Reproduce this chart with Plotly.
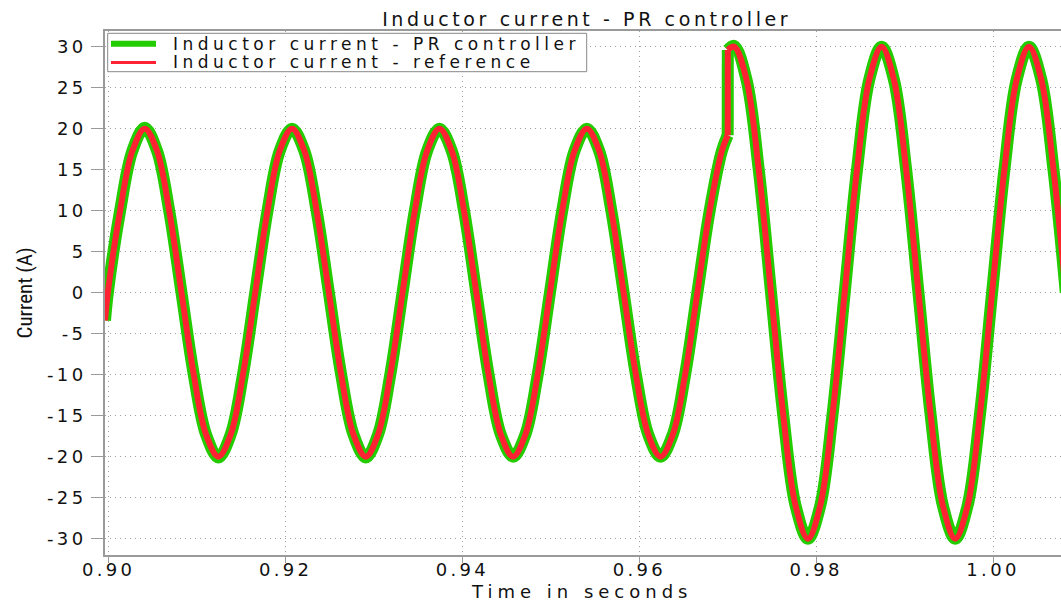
import plotly.graph_objects as go

# ---- data (time in s, current in A) ----
# before the amplitude step (20 A peak)
TIME_A = [0.89958, 0.89990, 0.90129, 0.90268, 0.90407, 0.90546, 0.90684, 0.90823, 0.90962,
          0.91101, 0.91240, 0.91379, 0.91518, 0.91657, 0.91796, 0.91934, 0.92073,
          0.92212, 0.92351, 0.92490, 0.92629, 0.92768, 0.92907, 0.93046, 0.93184,
          0.93323, 0.93462, 0.93601, 0.93740, 0.93879, 0.94018, 0.94157, 0.94296,
          0.94434, 0.94573, 0.94712, 0.94851, 0.94990, 0.95129, 0.95268, 0.95407,
          0.95546, 0.95684, 0.95823, 0.95962, 0.96101, 0.96240, 0.96379, 0.96518,
          0.96657, 0.96796, 0.96934, 0.97000]
PR_A = [-3.4, 0.0, 10.0, 17.3, 20.1, 17.3, 10.0, 0.0, -10.0,
        -17.3, -20.1, -17.3, -10.0, 0.0, 10.0, 17.3, 20.0,
        17.3, 10.0, 0.0, -10.0, -17.3, -20.1, -17.3, -10.0,
        0.0, 10.0, 17.3, 20.0, 17.3, 10.0, 0.0, -10.0,
        -17.3, -20.0, -17.3, -10.0, 0.0, 10.0, 17.3, 20.0,
        17.3, 10.0, 0.0, -10.0, -17.3, -20.0, -17.3, -10.0,
        0.0, 10.0, 17.3, 19.2]
REF_A = [-3.4, 0.0, 10.0, 17.3, 20.0, 17.3, 10.0, 0.0, -10.0,
         -17.3, -20.0, -17.3, -10.0, 0.0, 10.0, 17.3, 20.0,
         17.3, 10.0, 0.0, -10.0, -17.3, -20.0, -17.3, -10.0,
         0.0, 10.0, 17.3, 20.0, 17.3, 10.0, 0.0, -10.0,
         -17.3, -20.0, -17.3, -10.0, 0.0, 10.0, 17.3, 20.0,
         17.3, 10.0, 0.0, -10.0, -17.3, -20.0, -17.3, -10.0,
         0.0, 10.0, 17.3, 19.2]
# after the amplitude step (30 A peak)
TIME_B = [0.97001, 0.97073, 0.97212, 0.97351, 0.97490, 0.97629, 0.97768, 0.97907,
          0.98046, 0.98184, 0.98323, 0.98462, 0.98601, 0.98740, 0.98879, 0.99018,
          0.99157, 0.99296, 0.99434, 0.99573, 0.99712, 0.99851, 0.99990, 1.00129,
          1.00268, 1.00407, 1.00546, 1.00684, 1.00823]
PR_B = [29.6, 30.1, 26.0, 15.0, 0.0, -15.0, -26.0, -30.0,
        -26.0, -15.0, 0.0, 15.0, 26.0, 30.0, 26.0, 15.0,
        0.0, -15.0, -26.0, -30.0, -26.0, -15.0, 0.0, 15.0,
        26.0, 30.0, 26.0, 15.0, 0.0]
REF_B = [29.6, 30.0, 26.0, 15.0, 0.0, -15.0, -26.0, -30.0,
         -26.0, -15.0, 0.0, 15.0, 26.0, 30.0, 26.0, 15.0,
         0.0, -15.0, -26.0, -30.0, -26.0, -15.0, 0.0, 15.0,
         26.0, 30.0, 26.0, 15.0, 0.0]

X_TICKS = [0.90, 0.92, 0.94, 0.96, 0.98, 1.00]
X_TICK_TEXT = ["0.90", "0.92", "0.94", "0.96", "0.98", "1.00"]
Y_TICKS = [-30, -25, -20, -15, -10, -5, 0, 5, 10, 15, 20, 25, 30]
Y_TICK_TEXT = ["-30", "-25", "-20", "-15", "-10", "-5", "0", "5", "10", "15", "20", "25", "30"]

NAME_PR = "Inductor current - PR controller"
NAME_REF = "Inductor current - reference"
TITLE = "Inductor current - PR controller"
X_TITLE = "Time in seconds"
Y_TITLE = "Current (A)"

GREEN = "#22CC00"
RED = "#FF2233"
FONT = "DejaVu Sans"
TXT = "#111111"
AXC = "#9a9a9a"


def sp(s, ls):
    return f'<span style="letter-spacing:{ls}px">{s}</span>'


fig = go.Figure()


def add_series(ya, yb, color, width, name):
    fig.add_trace(go.Scatter(x=TIME_A, y=ya, mode="lines", name=name,
                             line=dict(color=color, width=width, shape="spline", smoothing=1.0),
                             showlegend=False))
    fig.add_trace(go.Scatter(x=[TIME_A[-1], TIME_B[0]], y=[ya[-1], yb[0]], mode="lines",
                             name=name, line=dict(color=color, width=width), showlegend=False))
    fig.add_trace(go.Scatter(x=TIME_B, y=yb, mode="lines", name=name,
                             line=dict(color=color, width=width, shape="spline", smoothing=1.0),
                             showlegend=False))


add_series(PR_A, PR_B, GREEN, 12, NAME_PR)
add_series(REF_A, REF_B, RED, 6, NAME_REF)

W, H = 1061, 602
ML, MR, MT, MB = 105, 0, 31, 47
PW, PH = W - ML - MR, H - MT - MB


def px(x):
    return (x - ML) / PW


def py(y):
    return (H - MB - y) / PH


# legend box (drawn as a framed key)
LEG = [(NAME_PR, GREEN, 6, 43.8), (NAME_REF, RED, 3, 62.4)]
shapes = [dict(type="rect", xref="paper", yref="paper",
               x0=px(107.7), x1=px(586.7), y0=py(71.7), y1=py(33.3),
               line=dict(color="#888888", width=1), fillcolor="white", layer="above")]
annotations = []
for name, col, lw, yy in LEG:
    shapes.append(dict(type="line", xref="paper", yref="paper",
                       x0=px(111), x1=px(156), y0=py(yy), y1=py(yy),
                       line=dict(color=col, width=lw), layer="above"))
    annotations.append(dict(text=sp(name, 4.5), xref="paper", yref="paper",
                            x=px(170.5), y=py(yy), xanchor="left", yanchor="middle",
                            showarrow=False, font=dict(family=FONT, size=17, color=TXT)))

annotations += [
    dict(text=sp(X_TITLE, 5.0), xref="paper", yref="paper",
         x=px(581), y=py(591), xanchor="center", yanchor="middle", showarrow=False,
         font=dict(family=FONT, size=18, color=TXT)),
    dict(text=Y_TITLE, xref="paper", yref="paper", textangle=-90,
         x=px(24.5), y=0.5, xanchor="center", yanchor="middle", showarrow=False,
         font=dict(family="Liberation Sans Narrow, Roboto Condensed, Arial Narrow, sans-serif",
                   size=21, color=TXT)),
]

fig.update_layout(
    width=W, height=H,
    margin=dict(l=ML, r=MR, t=MT, b=MB),
    paper_bgcolor="white", plot_bgcolor="white",
    font=dict(family=FONT, color=TXT, size=16),
    title=dict(text=sp(TITLE, 3.6), font=dict(family=FONT, size=19, color=TXT),
               xref="container", x=586.7 / W, xanchor="center",
               yref="container", y=1 - 19 / H, yanchor="middle"),
    showlegend=False,
    xaxis=dict(range=[0.89958, 1.00769], tickvals=X_TICKS,
               ticktext=[sp(t, 3.3) for t in X_TICK_TEXT],
               tickfont=dict(family=FONT, size=18, color=TXT), ticklabelstandoff=-9,
               showline=True, linecolor=AXC, linewidth=2, mirror=True,
               ticks="outside", ticklen=6, tickcolor=AXC, tickwidth=1,
               showgrid=True, gridcolor="#9f9f9f", griddash="1px,4px", gridwidth=1,
               zeroline=False),
    yaxis=dict(range=[-31.99, 31.91], tickvals=Y_TICKS,
               ticktext=[sp(t, 3.3) for t in Y_TICK_TEXT],
               tickfont=dict(family=FONT, size=18, color=TXT), ticklabelstandoff=1,
               showline=True, linecolor=AXC, linewidth=2, mirror=False,
               ticks="outside", ticklen=12, tickcolor=AXC, tickwidth=1,
               showgrid=True, gridcolor="#9f9f9f", griddash="1px,4px", gridwidth=1,
               zeroline=False),
    shapes=shapes,
    annotations=annotations,
)

fig.write_html("out.html")
